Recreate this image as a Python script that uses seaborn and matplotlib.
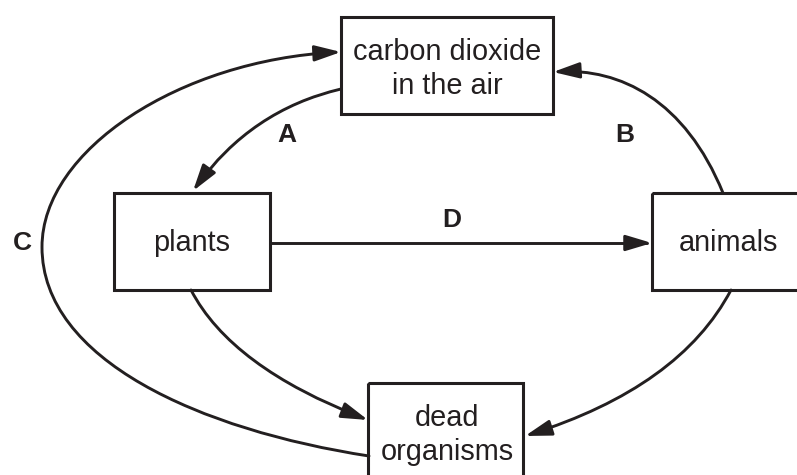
import matplotlib
matplotlib.use("Agg")
import matplotlib.pyplot as plt
import seaborn as sns
from matplotlib.patches import Rectangle, FancyArrowPatch
from matplotlib.path import Path

# --- data: boxes of the carbon cycle (pixel units, y downwards) ---
box_names = ["carbon dioxide\nin the air", "plants", "animals", "dead\norganisms"]
box_left = [341, 114, 652, 368]
box_top = [17, 193, 193, 383]
box_right = [553, 270, 800, 523]
box_bottom = [114, 290, 290, 480]
text_x = [447, 192, 728, 447]
text_y = [69, 243, 243, 435]

# arrows: control points of each curve
arrow_A = [(341, 89), (251, 110), (193, 191)]
arrow_B = [(723, 193), (685, 100), (620, 68), (553, 72)]
arrow_C = [(369, 456), (200, 430), (42, 360), (42, 247),
           (42, 150), (180, 60), (341, 52)]
arrow_D = [(270, 243), (652, 243)]
arrow_plants_dead = [(191, 290), (231, 367), (368, 420)]
arrow_animals_dead = [(731, 290), (680, 387), (525, 436)]

letters = ["A", "B", "C", "D"]
letter_x = [287, 625, 22, 452]
letter_y = [135, 135, 243, 220]

ink = "#231f20"

sns.set_theme(style="white")
plt.rcParams["font.family"] = ["Liberation Sans", "DejaVu Sans"]

fig = plt.figure(figsize=(7.97, 4.75), dpi=100)
ax = fig.add_axes([0, 0, 1, 1])
ax.set_xlim(0, 797)
ax.set_ylim(475, 0)
ax.axis("off")

# boxes + labels
for name, l, t, r, b, tx, ty in zip(box_names, box_left, box_top, box_right,
                                    box_bottom, text_x, text_y):
    ax.add_patch(Rectangle((l, t), r - l, b - t, fill=False, ec=ink, lw=2.2))
    ax.text(tx, ty, name, ha="center", va="center", fontsize=20.8,
            color=ink, linespacing=1.3)


def curve(points):
    # 2 points -> line, 3 -> quadratic, 1+3k -> cubic segments
    if len(points) == 2:
        codes = [Path.MOVETO, Path.LINETO]
    elif len(points) == 3:
        codes = [Path.MOVETO, Path.CURVE3, Path.CURVE3]
    else:
        codes = [Path.MOVETO] + [Path.CURVE4] * (len(points) - 1)
    return Path(points, codes)


for pts in [arrow_A, arrow_B, arrow_C, arrow_D, arrow_plants_dead, arrow_animals_dead]:
    arr = FancyArrowPatch(path=curve(pts),
                          arrowstyle="-|>,head_length=0.8,head_width=0.24",
                          mutation_scale=20, color=ink, lw=2.1,
                          shrinkA=0, shrinkB=0)
    ax.add_patch(arr)

for s, x, y in zip(letters, letter_x, letter_y):
    ax.text(x, y, s, ha="center", va="center", fontsize=19,
            fontweight="bold", color=ink)

fig.savefig("out.png", dpi=100)
